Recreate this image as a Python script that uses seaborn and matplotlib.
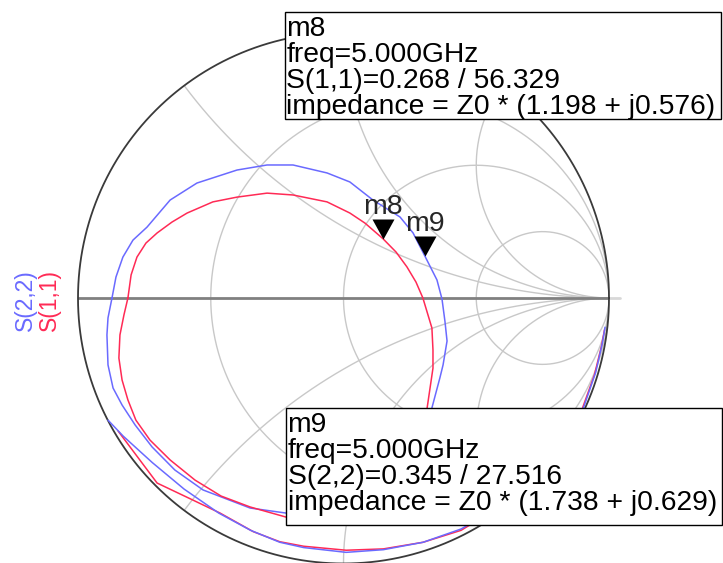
import numpy as np
import pandas as pd
import matplotlib
matplotlib.use("Agg")
import matplotlib.pyplot as plt
import seaborn as sns
from matplotlib.patches import Rectangle

# ---- reflection-coefficient traces (real, imag) ----
s11_loop_re = [-0.812, -0.800, -0.778, -0.744, -0.702, -0.646, -0.589, -0.492, -0.401, -0.288,
               -0.190, -0.062, 0.024, 0.081, 0.149, 0.198, 0.239, 0.273, 0.299, 0.333,
               0.337, 0.337, 0.315, 0.281, 0.232, 0.156, 0.062, -0.051, -0.164, -0.217,
               -0.352, -0.461, -0.559, -0.653, -0.729, -0.782, -0.812, -0.834, -0.846, -0.842,
               -0.827, -0.812]
s11_loop_im = [0.000, 0.087, 0.154, 0.207, 0.245, 0.286, 0.320, 0.362, 0.380, 0.395,
               0.388, 0.362, 0.320, 0.282, 0.223, 0.173, 0.117, 0.060, 0.000, -0.113,
               -0.196, -0.264, -0.414, -0.516, -0.610, -0.697, -0.768, -0.814, -0.829, -0.825,
               -0.787, -0.746, -0.686, -0.610, -0.535, -0.460, -0.384, -0.309, -0.226, -0.139,
               -0.064, 0.000]

s22_loop_re = [-0.872, -0.857, -0.831, -0.793, -0.740, -0.653, -0.552, -0.401, -0.288, -0.190,
               -0.062, 0.024, 0.111, 0.213, 0.262, 0.306, 0.352, 0.371, 0.382, 0.390,
               0.375, 0.363, 0.333, 0.307, 0.258, 0.183, 0.081, -0.032, -0.145, -0.217,
               -0.352, -0.529, -0.635, -0.721, -0.785, -0.834, -0.868, -0.887, -0.891, -0.887,
               -0.872]
s22_loop_im = [0.000, 0.079, 0.154, 0.218, 0.267, 0.369, 0.433, 0.482, 0.501, 0.501,
               0.471, 0.437, 0.369, 0.305, 0.245, 0.159, 0.068, -0.004, -0.087, -0.162,
               -0.252, -0.301, -0.414, -0.516, -0.618, -0.704, -0.768, -0.806, -0.817, -0.810,
               -0.791, -0.723, -0.648, -0.561, -0.478, -0.403, -0.339, -0.252, -0.139, -0.075,
               0.000]

s11_edge_re = [0.983, 0.972, 0.945, 0.900, 0.835, 0.755, 0.655, 0.550, 0.443, 0.300,
               0.150, 0.010, -0.150, -0.240, -0.340, -0.465, -0.580, -0.702, -0.849]
s11_edge_im = [-0.120, -0.180, -0.290, -0.415, -0.535, -0.640, -0.735, -0.810, -0.875, -0.920,
               -0.945, -0.950, -0.935, -0.918, -0.880, -0.810, -0.755, -0.697, -0.501]

s22_edge_re = [0.985, 0.975, 0.950, 0.905, 0.840, 0.760, 0.660, 0.555, 0.443, 0.300,
               0.150, 0.010, -0.150, -0.240, -0.350, -0.470, -0.600, -0.720, -0.830, -0.887]
s22_edge_im = [-0.110, -0.170, -0.280, -0.410, -0.530, -0.635, -0.730, -0.805, -0.870, -0.920,
               -0.948, -0.958, -0.940, -0.920, -0.875, -0.810, -0.720, -0.620, -0.520, -0.460]

# ---- markers at 5 GHz: magnitude / angle (deg) ----
marker_names = ["m8", "m9"]
marker_params = ["S(1,1)", "S(2,2)"]
marker_mag = [0.268, 0.345]
marker_ang = [56.329, 27.516]
marker_z = ["(1.198 + j0.576)", "(1.738 + j0.629)"]
marker_freq = "5.000GHz"

# ---- Smith grid values ----
r_circles = [1/3, 1.0, 3.0]
x_arcs = [0.5, 1.0, 2.0, -0.5, -1.0, -2.0]

RED = "#ff2a55"
BLUE = "#6a6aff"
GRID = "#c8c8c8"

sns.set_style("white")
plt.rcParams["font.family"] = ["Liberation Sans", "DejaVu Sans"]

W, H = 723, 563
fig = plt.figure(figsize=(W / 100, H / 100), dpi=100)
cx, cy, R = 343.5, 298.0, 265.5   # chart centre / radius in pixels
ax = fig.add_axes([(cx - R) / W, (H - cy - R) / H, 2 * R / W, 2 * R / H])

t = np.linspace(0, 2 * np.pi, 721)
# constant-resistance circles
for r in r_circles:
    c, rad = r / (1 + r), 1 / (1 + r)
    ax.plot(c + rad * np.cos(t), rad * np.sin(t), color=GRID, lw=1.0, zorder=1)
# constant-reactance arcs (inside unit circle only)
for xv in x_arcs:
    rad = 1 / abs(xv)
    gx = 1 + rad * np.cos(t)
    gy = 1 / xv + rad * np.sin(t)
    inside = gx ** 2 + gy ** 2 <= 1.0 + 1e-9
    gx = np.where(inside, gx, np.nan)
    gy = np.where(inside, gy, np.nan)
    ax.plot(gx, gy, color=GRID, lw=1.0, zorder=1)

# real axis and outer circle
ax.plot([1.0, 1.04], [0, 0], color="#d8d8d8", lw=2, zorder=1, clip_on=False)
ax.plot([-1, 1], [0, 0], color="#808080", lw=2, zorder=2)
ax.plot(np.cos(t), np.sin(t), color="#3a3a3a", lw=1.3, zorder=2, clip_on=False)

# traces
traces = [
    (s11_edge_re, s11_edge_im, RED),
    (s22_edge_re, s22_edge_im, BLUE),
    (s22_loop_re, s22_loop_im, BLUE),
    (s11_loop_re, s11_loop_im, RED),
]
for re_, im_, col in traces:
    df = pd.DataFrame({"re": re_, "im": im_})
    sns.lineplot(data=df, x="re", y="im", sort=False, estimator=None,
                 color=col, lw=1.1, ax=ax, zorder=3)
ax.set_xlim(-1, 1)
ax.set_ylim(-1, 1)
ax.axis("off")

# markers: tip of the triangle sits on the data point
tri = [(0, 0), (-0.55, 1.0), (0.55, 1.0), (0, 0)]
for name, mag, ang in zip(marker_names, marker_mag, marker_ang):
    g = mag * np.exp(1j * np.deg2rad(ang))
    ax.plot([g.real], [g.imag], marker=tri, markersize=28.8, color="black",
            markeredgewidth=0, zorder=5, clip_on=False)
    ax.annotate(name, (g.real, g.imag), xytext=(0, 17.5), textcoords="offset points",
                ha="center", va="baseline", fontsize=20.5, zorder=6)

# trace labels on the left
fig.text(25 / W, 1 - 300 / H, "S(2,2)", color=BLUE, rotation=90,
         ha="center", va="center", fontsize=16.5)
fig.text(49 / W, 1 - 300 / H, "S(1,1)", color=RED, rotation=90,
         ha="center", va="center", fontsize=16.5)

# marker readout boxes
boxes = [(285, 12, 721, 119), (286, 408, 722, 525)]
for (x0, y0, x1, y1), name, par, mag, ang, z in zip(
        boxes, marker_names, marker_params, marker_mag, marker_ang, marker_z):
    fig.add_artist(Rectangle((x0 / W, 1 - y1 / H), (x1 - x0) / W, (y1 - y0) / H,
                             transform=fig.transFigure, facecolor="white",
                             edgecolor="black", lw=1.0, zorder=8))
    lines = [name,
             f"freq={marker_freq}",
             f"{par}={mag:.3f} / {ang:.3f}",
             f"impedance = Z0 * {z}"]
    for k, line in enumerate(lines):
        fig.text((x0 + 1.5) / W, 1 - (y0 + 24 + 26 * k) / H, line, ha="left",
                 va="baseline", fontsize=20.3, color="black", zorder=9)

fig.savefig("out.png", dpi=100)
